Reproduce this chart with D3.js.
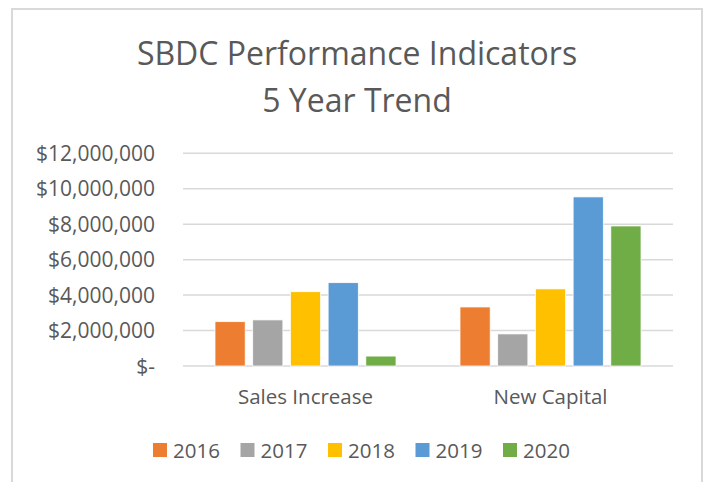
<!DOCTYPE html>
<html>
<head>
<meta charset="utf-8">
<script src="https://cdn.jsdelivr.net/npm/d3@7"></script>
<style>
  body { margin: 0; background: #fff; }
  text { font-family: "Open Sans", sans-serif; fill: #595959; }
</style>
</head>
<body>
<script>
// chart data
const categories = ["Sales Increase", "New Capital"];
const years = ["2016", "2017", "2018", "2019", "2020"];
const values2016 = [2500000, 3330000];
const values2017 = [2600000, 1810000];
const values2018 = [4190000, 4350000];
const values2019 = [4700000, 9540000];
const values2020 = [560000, 7900000];
const yTicks = [0, 2000000, 4000000, 6000000, 8000000, 10000000, 12000000];

const seriesValues = [values2016, values2017, values2018, values2019, values2020];
const colors = ["#ed7d31", "#a5a5a5", "#ffc000", "#5b9bd5", "#70ad47"];

const W = 706, H = 482;
const plot = {left: 183, right: 673, top: 153.3, bottom: 366};

const svg = d3.select("body").append("svg")
    .attr("width", W)
    .attr("height", H);

// chart frame
svg.append("rect")
    .attr("x", 12).attr("y", 9)
    .attr("width", 690).attr("height", 490)
    .attr("fill", "#fff")
    .attr("stroke", "#d9d9d9")
    .attr("stroke-width", 2);

// title
const title = svg.append("text")
    .attr("text-anchor", "middle")
    .style("font-size", "32px");
title.append("tspan").attr("x", 357).attr("y", 65).text("SBDC Performance Indicators");
title.append("tspan").attr("x", 357).attr("y", 112).text("5 Year Trend");

const x0 = d3.scaleBand()
    .domain(categories)
    .range([plot.left, plot.right])
    .padding(0);

const x1 = d3.scaleBand()
    .domain(years)
    .range([32, x0.bandwidth() - 32])
    .paddingInner(0.2)
    .paddingOuter(0);

const y = d3.scaleLinear()
    .domain([0, 12000000])
    .range([plot.bottom, plot.top]);

// gridlines
svg.append("g")
    .selectAll("line")
    .data(yTicks)
    .join("line")
    .attr("x1", plot.left)
    .attr("x2", plot.right)
    .attr("y1", d => y(d))
    .attr("y2", d => y(d))
    .attr("stroke", "#d9d9d9")
    .attr("stroke-width", 1.5);

// y axis labels
const fmt = d3.format(",");
svg.append("g")
    .selectAll("text")
    .data(yTicks)
    .join("text")
    .attr("x", 155)
    .attr("y", d => y(d) + 7.5)
    .attr("text-anchor", "end")
    .style("font-size", "21px")
    .text(d => d === 0 ? "$-" : "$" + fmt(d));

// bars
const rows = categories.map((c, i) => ({
    cat: c,
    vals: years.map((yr, j) => ({year: yr, value: seriesValues[j][i], color: colors[j]}))
}));

const groups = svg.append("g")
    .selectAll("g")
    .data(rows)
    .join("g")
    .attr("transform", d => `translate(${x0(d.cat)},0)`);

groups.selectAll("rect")
    .data(d => d.vals)
    .join("rect")
    .attr("x", d => x1(d.year))
    .attr("width", x1.bandwidth())
    .attr("y", d => y(d.value))
    .attr("height", d => y(0) - y(d.value))
    .attr("fill", d => d.color)
    .attr("stroke", "#fff")
    .attr("stroke-width", 0.75);

// category labels
svg.append("g")
    .selectAll("text")
    .data(categories)
    .join("text")
    .attr("x", d => x0(d) + x0.bandwidth() / 2)
    .attr("y", 404)
    .attr("text-anchor", "middle")
    .style("font-size", "20.5px")
    .text(d => d);

// legend
const legend = svg.append("g")
    .selectAll("g")
    .data(years)
    .join("g")
    .attr("transform", (d, i) => `translate(${153 + i * 87.5},443)`);

legend.append("rect")
    .attr("width", 14)
    .attr("height", 14)
    .attr("fill", (d, i) => colors[i]);

legend.append("text")
    .attr("x", 20)
    .attr("y", 14.5)
    .style("font-size", "20.5px")
    .text(d => d);
</script>
</body>
</html>
